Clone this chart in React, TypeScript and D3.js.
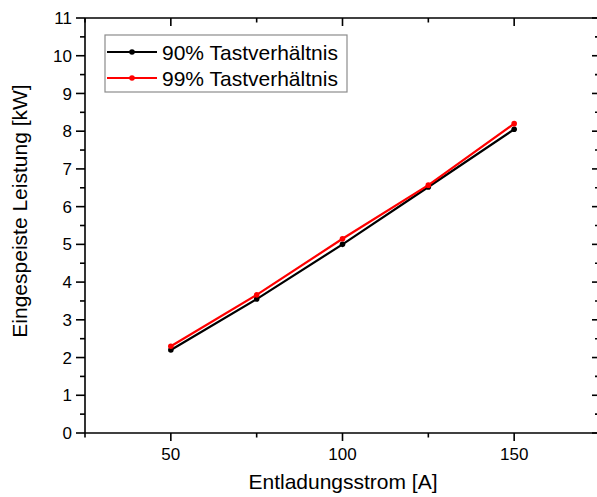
import React from "react";
import * as d3 from "d3";

const W = 597;
const H = 497;

const currents = [50, 75, 100, 125, 150];
const power90 = [2.2, 3.55, 5.0, 6.52, 8.05];
const power99 = [2.3, 3.66, 5.15, 6.57, 8.2];

const seriesNames = ["90% Tastverhältnis", "99% Tastverhältnis"];
const seriesColors = ["#000000", "#ff0000"];

const xTitle = "Entladungsstrom [A]";
const yTitle = "Eingespeiste Leistung [kW]";

const xMajor = [50, 100, 150];
const xMinor = [25, 75, 125, 175];
const yMajor = d3.range(0, 12, 1);
const yMinor = d3.range(0.5, 11, 1);

const margin = { left: 85, top: 18, right: 600, bottom: 433 };

export default function App() {
  const x = d3.scaleLinear().domain([25, 175]).range([margin.left, margin.right]);
  const y = d3.scaleLinear().domain([0, 11]).range([margin.bottom, margin.top]);

  const line = d3
    .line<number>()
    .x((_, i) => x(currents[i]))
    .y((d) => y(d));

  const series = [power90, power99];
  const font = "'Liberation Sans', Arial, sans-serif";
  const sw = 1.6;

  return (
    <svg
      width={W}
      height={H}
      style={{ position: "absolute", left: 0, top: 0, background: "#fff" }}
      fontFamily={font}
    >
      <rect x={0} y={0} width={W} height={H} fill="#fff" />

      {/* data lines */}
      {series.map((vals, si) => (
        <g key={si}>
          <path d={line(vals) || ""} fill="none" stroke={seriesColors[si]} strokeWidth={2.2} />
          {vals.map((v, i) => (
            <circle key={i} cx={x(currents[i])} cy={y(v)} r={2.8} fill={seriesColors[si]} />
          ))}
        </g>
      ))}

      {/* frame */}
      <g stroke="#000" strokeWidth={sw} fill="none">
        <line x1={margin.left} x2={margin.right} y1={margin.bottom} y2={margin.bottom} />
        <line x1={margin.left} x2={margin.right} y1={margin.top} y2={margin.top} />
        <line x1={margin.left} x2={margin.left} y1={margin.top} y2={margin.bottom} />
        <line x1={margin.right} x2={margin.right} y1={margin.top} y2={margin.bottom} />
      </g>

      {/* x ticks: bottom outward, top inward */}
      <g stroke="#000" strokeWidth={sw}>
        {xMajor.map((t) => (
          <g key={"xM" + t}>
            <line x1={x(t)} x2={x(t)} y1={margin.bottom} y2={margin.bottom + 8} />
            <line x1={x(t)} x2={x(t)} y1={margin.top} y2={margin.top + 8} />
          </g>
        ))}
        {xMinor.map((t) => (
          <g key={"xm" + t}>
            <line x1={x(t)} x2={x(t)} y1={margin.bottom} y2={margin.bottom + 4.5} />
            <line x1={x(t)} x2={x(t)} y1={margin.top} y2={margin.top + 4.5} />
          </g>
        ))}
      </g>
      {xMajor.map((t) => (
        <text key={"xl" + t} x={x(t)} y={460} textAnchor="middle" fontSize={17} fill="#000">
          {t}
        </text>
      ))}

      {/* y ticks: left outward, right inward */}
      <g stroke="#000" strokeWidth={sw}>
        {yMajor.map((t) => (
          <g key={"yM" + t}>
            <line x1={margin.left - 9} x2={margin.left} y1={y(t)} y2={y(t)} />
            <line x1={margin.right - 8} x2={margin.right} y1={y(t)} y2={y(t)} />
          </g>
        ))}
        {yMinor.map((t) => (
          <g key={"ym" + t}>
            <line x1={margin.left - 5} x2={margin.left} y1={y(t)} y2={y(t)} />
            <line x1={margin.right - 5} x2={margin.right} y1={y(t)} y2={y(t)} />
          </g>
        ))}
      </g>
      {yMajor.map((t) => (
        <text
          key={"yl" + t}
          x={72}
          y={y(t)}
          dy="0.36em"
          textAnchor="end"
          fontSize={17}
          fill="#000"
        >
          {t}
        </text>
      ))}

      {/* axis titles */}
      <text x={343} y={489} textAnchor="middle" fontSize={21} fill="#000">
        {xTitle}
      </text>
      <text
        transform={`translate(27, 211) rotate(-90)`}
        textAnchor="middle"
        fontSize={21}
        fill="#000"
      >
        {yTitle}
      </text>

      {/* legend */}
      <g>
        <rect x={105} y={35} width={242} height={57} fill="#fff" stroke="#8c8c8c" strokeWidth={1.2} />
        {seriesNames.map((name, i) => {
          const ry = 52 + i * 26;
          return (
            <g key={name}>
              <line x1={107} x2={157} y1={ry} y2={ry} stroke={seriesColors[i]} strokeWidth={2.2} />
              <circle cx={132} cy={ry} r={2.8} fill={seriesColors[i]} />
              <text x={162} y={ry} dy="0.36em" fontSize={21} fill="#000">
                {name}
              </text>
            </g>
          );
        })}
      </g>
    </svg>
  );
}
